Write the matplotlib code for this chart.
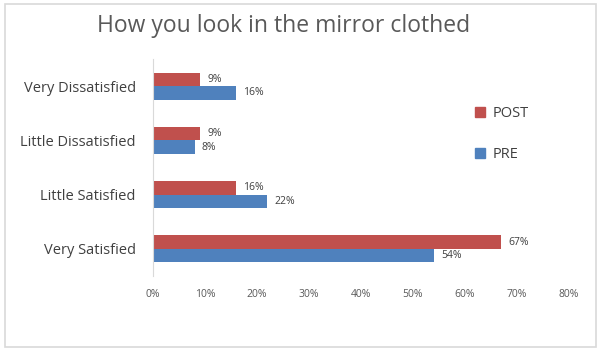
import matplotlib.pyplot as plt
from matplotlib.patches import Rectangle, Patch

categories = ["Very Satisfied", "Little Satisfied", "Little Dissatisfied", "Very Dissatisfied"]
post = [67, 16, 9, 9]
pre = [54, 22, 8, 16]
ticks = [0, 10, 20, 30, 40, 50, 60, 70, 80]

red = "#C0504D"
blue = "#4F81BD"

plt.rcParams['font.family'] = ['Open Sans', 'DejaVu Sans']

fig = plt.figure(figsize=(6, 3.53), dpi=100)
ax = fig.add_axes([0.255, 0.218, 0.693, 0.615])

# outer frame of the chart
fig.patches.append(Rectangle((0.008, 0.017), 0.985, 0.972, transform=fig.transFigure,
                             fill=False, edgecolor="#D9D9D9", linewidth=1.2))

h = 0.25
y = list(range(len(categories)))
ax.barh([v + h / 2 for v in y], post, height=h, color=red)
ax.barh([v - h / 2 for v in y], pre, height=h, color=blue)

for i in y:
    ax.text(post[i] + 1.4, i + h / 2, f"{post[i]}%", va="center", ha="left",
            fontsize=7.5, color="#404040")
    ax.text(pre[i] + 1.4, i - h / 2, f"{pre[i]}%", va="center", ha="left",
            fontsize=7.5, color="#404040")

ax.set_xlim(0, 80)
ax.set_ylim(-0.5, 3.5)
ax.set_yticks(y)
ax.set_yticklabels(categories, fontsize=10.5, color="#404040")
ax.set_xticks(ticks)
ax.set_xticklabels([f"{t}%" for t in ticks], fontsize=7.5, color="#595959")
ax.tick_params(length=0)
ax.tick_params(axis="x", pad=9)
ax.tick_params(axis="y", pad=12.5)
for s in ["top", "right", "bottom"]:
    ax.spines[s].set_visible(False)
ax.spines["left"].set_color("#D9D9D9")

fig.text(0.472, 0.925, "How you look in the mirror clothed", ha="center", va="center",
         fontsize=16.5, color="#595959")

handles = [Patch(color=red, label="POST"), Patch(color=blue, label="PRE")]
fig.legend(handles=handles, loc="center left", bbox_to_anchor=(0.77, 0.62),
           frameon=False, fontsize=10.5, handlelength=0.7, handleheight=0.7,
           labelspacing=1.75, handletextpad=0.5, labelcolor="#404040")

plt.savefig("out.png", dpi=100)
